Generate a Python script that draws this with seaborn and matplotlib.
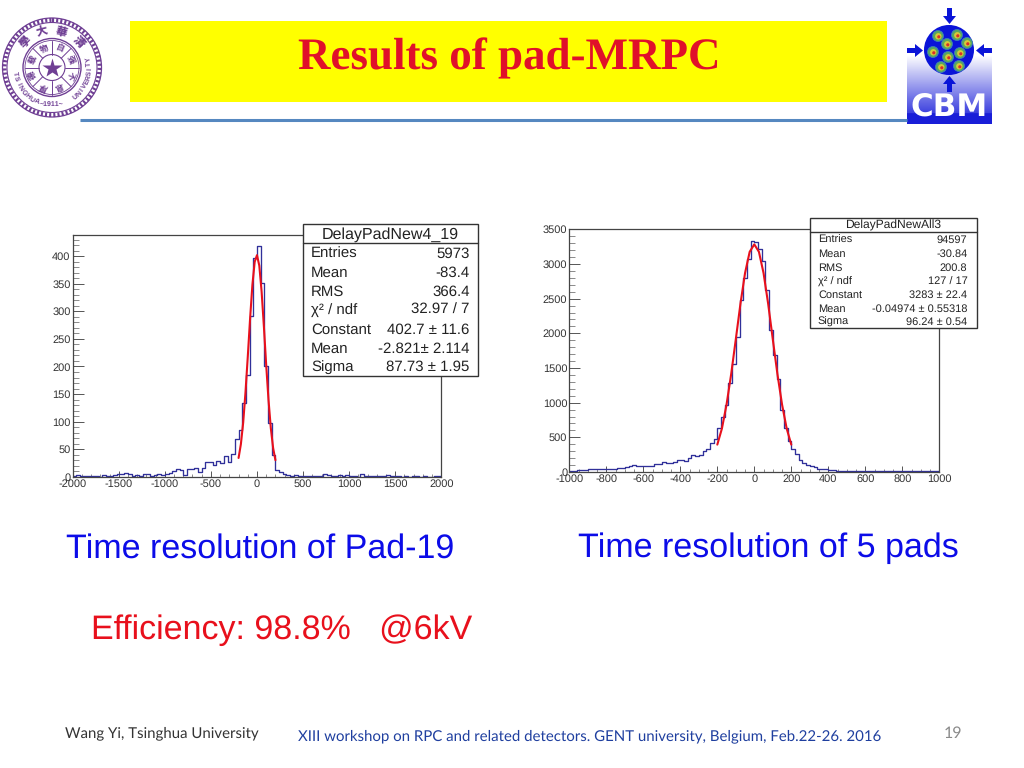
import numpy as np
import matplotlib
matplotlib.use("Agg")
import matplotlib.pyplot as plt
import seaborn as sns
from matplotlib.patches import Rectangle, Circle, Polygon
from matplotlib.ticker import MultipleLocator

# pad 19 histogram, 100 bins of 40 from -2000
pad_counts = [1, 3, 1, 1, 2, 2, 1, 0, 3, 2, 2, 3, 5, 5, 6, 4, 2, 3, 2, 5,
              5, 2, 3, 4, 3, 5, 7, 11, 14, 12, 3, 14, 14, 15, 9, 16, 26, 26, 21, 29,
              25, 38, 26, 42, 68, 84, 133, 185, 292, 397, 418, 351, 200, 97, 40, 12, 8, 5, 3, 1,
              3, 2, 1, 1, 1, 2, 1, 1, 4, 3, 1, 2, 3, 2, 3, 1, 2, 0, 4, 2,
              1, 2, 1, 1, 2, 3, 2, 1, 1, 0, 1, 0, 1, 1, 0, 1, 0, 0, 1, 2]
pad_fit_x = [-200, -175, -150, -125, -100, -75, -50, -25, 0, 25, 50, 75, 100, 125, 150, 175, 200]
pad_fit_y = [34, 59, 98, 153, 218, 287, 348, 390, 402, 383, 336, 272, 202, 139, 88, 52, 30]

# all pads histogram, 100 bins of 20 from -1000
all_counts = [15, 20, 25, 30, 35, 40, 40, 40, 40, 40, 40, 45, 50, 55, 60, 70, 90, 95, 90, 85,
              90, 90, 90, 110, 115, 140, 130, 130, 140, 180, 170, 165, 200, 240, 230, 250, 300, 330, 420, 470,
              640, 790, 960, 1280, 1560, 1950, 2480, 2800, 3070, 3330, 3320, 3215, 3040, 2620, 2050, 1690, 1340, 900, 640, 450,
              330, 255, 180, 130, 95, 80, 65, 50, 45, 40, 35, 25, 15, 10, 15, 15, 15, 15, 15, 10,
              10, 15, 15, 15, 12, 10, 10, 8, 10, 10, 10, 10, 12, 10, 10, 10, 10, 10, 10, 10]
all_fit_x = [-200, -175, -150, -125, -100, -75, -50, -25, 0, 25, 50, 75, 100, 125, 150, 175, 200]
all_fit_y = [395, 627, 973, 1412, 1913, 2424, 2869, 3175, 3283, 3175, 2869, 2424, 1913, 1412, 973, 627, 395]

pad_stats_title = "DelayPadNew4_19"
pad_stats = [("Entries", "5973"), ("Mean", "-83.4"), ("RMS", "366.4"), ("χ² / ndf", "32.97 / 7"),
             ("Constant", "402.7 ± 11.6"), ("Mean", "-2.821± 2.114"), ("Sigma", "87.73 ± 1.95")]
all_stats_title = "DelayPadNewAll3"
all_stats = [("Entries", "94597"), ("Mean", "-30.84"), ("RMS", "200.8"), ("χ² / ndf", "127 / 17"),
             ("Constant", "3283 ± 22.4"), ("Mean", "-0.04974 ± 0.55318"), ("Sigma", "96.24 ± 0.54")]

seal_zh = ["學", "大", "華", "清"]
seal_inner = ["自", "强", "不", "息", "厚", "德", "载", "物"]

W, H = 1024, 768
sns.set_style("ticks")
plt.rcParams["font.family"] = ["Liberation Sans", "DejaVu Sans"]
plt.rcParams["axes.unicode_minus"] = False
plt.rcParams["text.hinting"] = "no_hinting"
plt.rcParams["text.hinting_factor"] = 1
fig = plt.figure(figsize=(W / 100, H / 100), dpi=100, facecolor="white")


def px_axes(x0, y0, x1, y1):
    return fig.add_axes([x0 / W, 1 - y1 / H, (x1 - x0) / W, (y1 - y0) / H])


def draw_hist(ax, edges, counts, fit_x, fit_y, xlim, ylim, xmaj, xmin, ymaj, ymin):
    centers = (edges[:-1] + edges[1:]) / 2
    sns.histplot(x=centers, weights=counts, bins=edges.tolist(), element="step", fill=False,
                 color="#30309a", linewidth=0.95, ax=ax)
    sns.lineplot(x=fit_x, y=fit_y, color="#e8101c", linewidth=1.5, errorbar=None, ax=ax)
    ax.set_xlim(xlim)
    ax.set_ylim(ylim)
    ax.set_xlabel("")
    ax.set_ylabel("")
    ax.xaxis.set_major_locator(MultipleLocator(xmaj))
    ax.xaxis.set_minor_locator(MultipleLocator(xmin))
    ax.yaxis.set_major_locator(MultipleLocator(ymaj))
    ax.yaxis.set_minor_locator(MultipleLocator(ymin))
    ax.tick_params(which="major", direction="in", width=0.7, color="#555555",
                   labelsize=8.1, labelcolor="#333333", pad=1.5)
    ax.tick_params(which="minor", direction="in", width=0.6, color="#777777")
    ax.tick_params(axis="x", which="major", length=4.4)
    ax.tick_params(axis="x", which="minor", length=2.2)
    ax.tick_params(axis="y", which="major", length=8)
    ax.tick_params(axis="y", which="minor", length=4)
    for s in ax.spines.values():
        s.set_visible(True)
        s.set_linewidth(0.9)
        s.set_color("#444444")


ax1 = px_axes(72.7, 235, 441.3, 476.7)
draw_hist(ax1, np.arange(-2000, 2001, 40), pad_counts, pad_fit_x, pad_fit_y,
          (-2000, 2000), (0, 438.6), 500, 100, 50, 10)
ax2 = px_axes(569.3, 229.3, 939.3, 472)
draw_hist(ax2, np.arange(-1000, 1001, 20), all_counts, all_fit_x, all_fit_y,
          (-1000, 1000), (0, 3500), 200, 50, 500, 100)

# everything else of the slide goes on a pixel overlay
ov = fig.add_axes([0, 0, 1, 1], zorder=5)
ov.patch.set_alpha(0)
ov.axis("off")

# header
ov.add_patch(Rectangle((130, 21), 757, 81, fc="#ffff00", ec="none"))
ov.text(509.5, 58.5, "Results of pad-MRPC", family="Liberation Serif", weight="bold",
        fontsize=32.7, color="#e0102a", ha="center", va="center")
ov.plot([80, 907], [120, 120], color="#5588c0", lw=2.2, solid_capstyle="butt")

# Tsinghua seal
purple = "#6f3f94"
cx, cy = 52, 67.5
ov.add_patch(Circle((cx, cy), 47.5, fc="none", ec=purple, lw=3, ls=(0, (0.5, 0.5))))
for r, lw in [(49.5, 0.9), (45, 0.8), (29, 1.0), (27, 0.6), (13, 0.8)]:
    ov.add_patch(Circle((cx, cy), r, fc="none", ec=purple, lw=lw))
ov.plot([cx], [cy], marker="*", ms=15, color=purple, mec="none")
for i, ch in enumerate(seal_zh):
    a = np.radians([-46, -15, 15, 46][i])
    ov.text(cx + 37 * np.sin(a), cy - 37 * np.cos(a), ch, color=purple, fontsize=8, weight="bold",
            family="Noto Sans CJK TC", ha="center", va="center", rotation=-np.degrees(a))
for i, ch in enumerate(seal_inner):
    a = np.radians(22.5 + i * 45)
    ov.text(cx + 20 * np.sin(a), cy - 20 * np.cos(a), ch, color=purple, fontsize=6,
            family="Noto Sans CJK TC", ha="center", va="center", rotation=-np.degrees(a))
    b = np.radians(i * 45)
    ov.plot([cx + 13 * np.sin(b), cx + 27 * np.sin(b)], [cy - 13 * np.cos(b), cy - 27 * np.cos(b)],
            color=purple, lw=0.7)
for i, ch in enumerate("TSINGHUA"):
    a = np.radians(-100 - i * 8)
    ov.text(cx + 37.5 * np.sin(a), cy - 37.5 * np.cos(a), ch, color=purple, fontsize=5.2, weight="bold",
            ha="center", va="center", rotation=180 - np.degrees(a))
for i, ch in enumerate("UNIVERSITY"):
    a = np.radians(142 - i * 7.2)
    ov.text(cx + 37.5 * np.sin(a), cy - 37.5 * np.cos(a), ch, color=purple, fontsize=5.2, weight="bold",
            ha="center", va="center", rotation=180 - np.degrees(a))
ov.text(cx, cy + 37, "~1911~", color=purple, fontsize=5, weight="bold", ha="center", va="center")

# CBM logo
grad = np.linspace(0, 1, 64)[:, None, None] * np.array([[[-0.9, -0.88, -0.15]]]) + 1
grad[-10:] = np.array([0.1, 0.12, 0.85])
ov.imshow(grad, extent=(907, 992, 124, 55), aspect="auto", zorder=1)
ov.add_patch(Circle((949, 50), 25, fc="#0a14d8", ec="none", zorder=2))
for bx, by in [(938, 36), (957, 35), (967, 43), (933, 52), (947, 44), (960, 53), (948, 57), (941, 67), (959, 66)]:
    ov.add_patch(Circle((bx, by), 5.5, fc="#58a860", ec="#3a7ac0", lw=0.6, zorder=3))
    ov.add_patch(Circle((bx + 0.3, by + 0.3), 3.2, fc="#d8c838", ec="none", zorder=4))
    ov.add_patch(Circle((bx + 0.8, by + 0.8), 1.6, fc="#d8302a", ec="none", zorder=4))
blue = "#0a14d8"
ov.add_patch(Polygon([(947, 8), (952, 8), (952, 16), (956, 16), (949.5, 24), (943, 16), (947, 16)], fc=blue, ec="none", zorder=3))
ov.add_patch(Polygon([(947, 92), (952, 92), (952, 84), (956, 84), (949.5, 76), (943, 84), (947, 84)], fc=blue, ec="none", zorder=3))
ov.add_patch(Polygon([(907, 48), (915, 48), (915, 44), (923, 50.5), (915, 57), (915, 53), (907, 53)], fc=blue, ec="none", zorder=3))
ov.add_patch(Polygon([(992, 48), (984, 48), (984, 44), (976, 50.5), (984, 57), (984, 53), (992, 53)], fc=blue, ec="none", zorder=3))
ov.text(949.5, 107.5, "CBM", family="DejaVu Sans", color="white", weight="bold", fontsize=22.5,
        ha="center", va="center", zorder=4)


def stat_box(x0, y0, x1, y1, divider, title, rows, row_y, fs, tfs, pad, val_x, base):
    ov.add_patch(Rectangle((x0, y0), x1 - x0, y1 - y0, fc="white", ec="#333333", lw=1.0, zorder=6))
    ov.plot([x0, x1], [divider, divider], color="#333333", lw=1.0, zorder=7)
    ov.text((x0 + x1) / 2, (y0 + divider) / 2 + base, title, fontsize=tfs, color="#222222",
            ha="center", va="baseline", zorder=7)
    for (name, val), y in zip(rows, row_y):
        ov.text(x0 + pad, y + base, name, fontsize=fs, color="#222222", ha="left", va="baseline", zorder=7)
        ov.text(val_x, y + base, val, fontsize=fs, color="#222222", ha="right", va="baseline", zorder=7)


stat_box(302.7, 224.3, 477.7, 376.3, 243, pad_stats_title, pad_stats,
         [253, 272, 291, 309, 329, 348, 366], 10.6, 11.5, 8.5, 469.5, 5)
stat_box(810, 218.3, 976.7, 328.3, 231.7, all_stats_title, all_stats,
         [239.5, 253, 267, 281, 294.5, 308, 321], 8.0, 8.4, 8, 967.5, 3.8)

# captions
ov.text(66, 548.5, "Time resolution of Pad-19", fontsize=24.7, color="#0c0ce8", va="center")
ov.text(578, 548.5, "Time resolution of 5 pads", fontsize=24.7, color="#0c0ce8", va="center")
ov.text(91, 630, "Efficiency: 98.8%   @6kV", fontsize=24.4, color="#e8101c", va="center")

# footer
ov.text(65, 733, "Wang Yi, Tsinghua University", family="Lato", fontsize=11.05, color="#333333", va="center")
ov.text(298, 736, "XIII workshop on RPC and related detectors. GENT university, Belgium, Feb.22-26. 2016",
        family="Lato", fontsize=11.05, color="#1f3f9f", va="center")
ov.text(953, 733, "19", family="Lato", fontsize=11.5, color="#8a8a8a", ha="center", va="center")

ov.set_xlim(0, W)
ov.set_ylim(H, 0)
fig.savefig("out.png", dpi=100)
